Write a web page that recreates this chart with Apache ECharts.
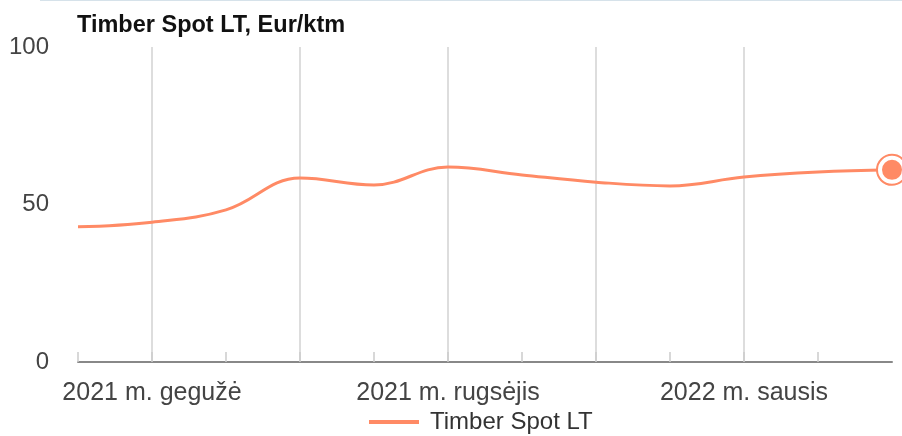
<!DOCTYPE html>
<html lang="lt" style="height: 100%">
  <head>
    <meta charset="utf-8">
    <title>Timber Spot LT</title>
  </head>
  <body style="height: 100%; margin: 0">
    <div id="container" style="width: 902px; height: 436px;"></div>
    <script type="text/javascript" src="https://cdn.jsdelivr.net/npm/echarts@6/dist/echarts.min.js"></script>
    <script type="text/javascript">
      // duomenys
      var months = ['2021 m. balandis', '2021 m. gegužė', '2021 m. birželis', '2021 m. liepa',
                    '2021 m. rugpjūtis', '2021 m. rugsėjis', '2021 m. spalis', '2021 m. lapkritis',
                    '2021 m. gruodis', '2022 m. sausis', '2022 m. vasaris', '2022 m. kovas'];
      var prices = [42.9, 44.4, 48.3, 58.4, 56.2, 61.9, 59.4, 57.1, 55.9, 58.7, 60.3, 61.0];
      var yTicks = [0, 50, 100];
      var labelIdx = [1, 5, 9];
      var seriesName = 'Timber Spot LT';

      var lineColor = '#ff8a65';
      var dom = document.getElementById('container');
      var myChart = echarts.init(dom);

      var lastIdx = prices.length - 1;
      var seriesData = prices.map(function (v, i) {
        if (i === lastIdx) {
          return {
            value: v,
            symbol: 'circle',
            symbolSize: 30,
            itemStyle: {color: '#fff', borderColor: lineColor, borderWidth: 2}
          };
        }
        return {value: v, symbol: 'none'};
      });

      var option = {
        animation: false,
        title: {
          text: 'Timber Spot LT, Eur/ktm',
          left: 72,
          top: 9,
          textStyle: {fontFamily: 'Liberation Sans', fontSize: 23.5, fontWeight: 'bold', color: '#111'}
        },
        graphic: [{
          type: 'line',
          shape: {x1: 40, y1: 0.5, x2: 902, y2: 0.5},
          style: {stroke: '#d6e2ea', lineWidth: 1}
        }],
        legend: {
          bottom: 2,
          left: 369,
          padding: 0,
          itemWidth: 50,
          itemHeight: 4,
          icon: 'rect',
          textStyle: {fontFamily: 'Liberation Sans', fontSize: 24, color: '#333', padding: [0, 0, 0, 6]},
          data: [seriesName]
        },
        grid: {left: 78, right: 10, top: 47, bottom: 74},
        xAxis: {
          type: 'category',
          boundaryGap: false,
          data: months,
          axisLine: {lineStyle: {color: '#888', width: 2}},
          axisTick: {
            inside: true,
            length: 10,
            interval: function (i) { return i < lastIdx; },
            lineStyle: {color: '#ccc', width: 1.5}
          },
          axisLabel: {
            margin: 19,
            fontFamily: 'Liberation Sans',
            fontSize: 25,
            color: '#444',
            interval: function (i) { return labelIdx.indexOf(i) >= 0; }
          },
          splitLine: {
            show: true,
            interval: function (i) { return i % 2 === 1 && i < lastIdx; },
            lineStyle: {color: '#ddd', width: 2}
          }
        },
        yAxis: {
          type: 'value',
          min: yTicks[0],
          max: yTicks[yTicks.length - 1],
          interval: yTicks[1] - yTicks[0],
          axisLine: {show: false},
          axisTick: {show: false},
          splitLine: {show: false},
          axisLabel: {
            margin: 29,
            fontFamily: 'Liberation Sans',
            fontSize: 24,
            color: '#444'
          }
        },
        series: [{
          name: seriesName,
          type: 'line',
          smooth: 0.4,
          data: seriesData,
          showAllSymbol: true,
          lineStyle: {color: lineColor, width: 3},
          itemStyle: {color: lineColor},
          markPoint: {
            symbol: 'circle',
            symbolSize: 20,
            label: {show: false},
            itemStyle: {color: lineColor},
            data: [{coord: [months[lastIdx], prices[lastIdx]]}]
          }
        }]
      };

      myChart.setOption(option);
    </script>
  </body>
</html>
